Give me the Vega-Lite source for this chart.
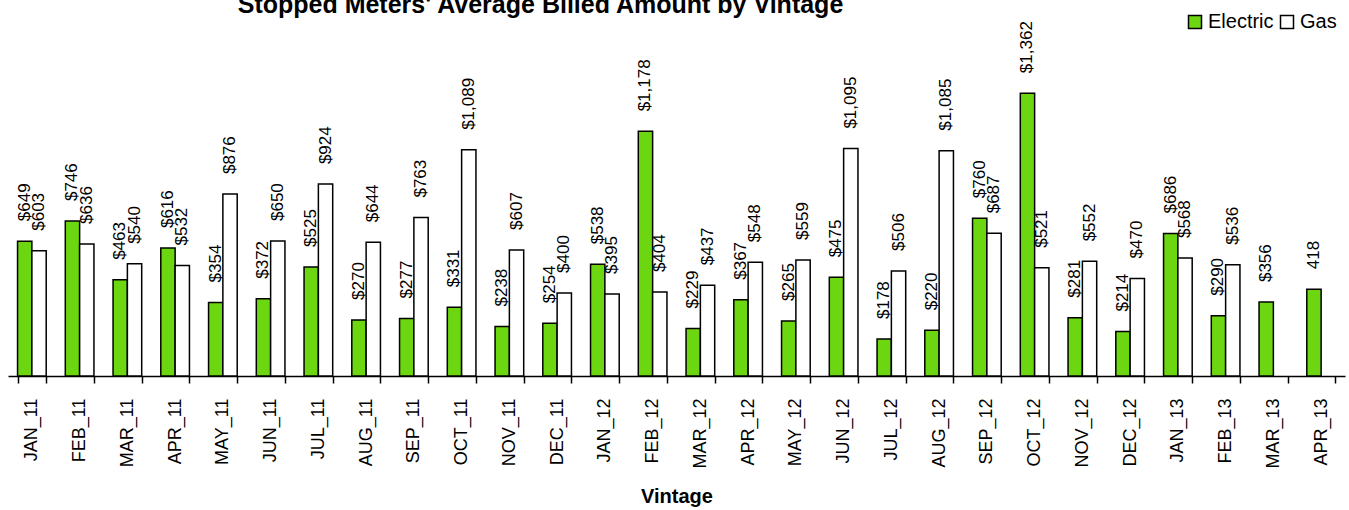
{
  "$schema": "https://vega.github.io/schema/vega-lite/v6.json",
  "width": 1337,
  "height": 346,
  "autosize": {"type": "none"},
  "padding": {"left": 8, "right": 4, "top": 30, "bottom": 134},
  "background": "white",
  "title": {
    "text": "Stopped Meters' Average Billed Amount by Vintage",
    "fontSize": 25,
    "fontWeight": "bold",
    "font": "Liberation Sans",
    "color": "black",
    "anchor": "middle",
    "dx": -136,
    "baseline": "alphabetic",
    "offset": -26
  },
  "data": {
    "values": [
      {"vintage": "JAN_11", "type": "Electric", "amount": 649, "label": "$649"},
      {"vintage": "JAN_11", "type": "Gas", "amount": 603, "label": "$603"},
      {"vintage": "FEB_11", "type": "Electric", "amount": 746, "label": "$746"},
      {"vintage": "FEB_11", "type": "Gas", "amount": 636, "label": "$636"},
      {"vintage": "MAR_11", "type": "Electric", "amount": 463, "label": "$463"},
      {"vintage": "MAR_11", "type": "Gas", "amount": 540, "label": "$540"},
      {"vintage": "APR_11", "type": "Electric", "amount": 616, "label": "$616"},
      {"vintage": "APR_11", "type": "Gas", "amount": 532, "label": "$532"},
      {"vintage": "MAY_11", "type": "Electric", "amount": 354, "label": "$354"},
      {"vintage": "MAY_11", "type": "Gas", "amount": 876, "label": "$876"},
      {"vintage": "JUN_11", "type": "Electric", "amount": 372, "label": "$372"},
      {"vintage": "JUN_11", "type": "Gas", "amount": 650, "label": "$650"},
      {"vintage": "JUL_11", "type": "Electric", "amount": 525, "label": "$525"},
      {"vintage": "JUL_11", "type": "Gas", "amount": 924, "label": "$924"},
      {"vintage": "AUG_11", "type": "Electric", "amount": 270, "label": "$270"},
      {"vintage": "AUG_11", "type": "Gas", "amount": 644, "label": "$644"},
      {"vintage": "SEP_11", "type": "Electric", "amount": 277, "label": "$277"},
      {"vintage": "SEP_11", "type": "Gas", "amount": 763, "label": "$763"},
      {"vintage": "OCT_11", "type": "Electric", "amount": 331, "label": "$331"},
      {"vintage": "OCT_11", "type": "Gas", "amount": 1089, "label": "$1,089"},
      {"vintage": "NOV_11", "type": "Electric", "amount": 238, "label": "$238"},
      {"vintage": "NOV_11", "type": "Gas", "amount": 607, "label": "$607"},
      {"vintage": "DEC_11", "type": "Electric", "amount": 254, "label": "$254"},
      {"vintage": "DEC_11", "type": "Gas", "amount": 400, "label": "$400"},
      {"vintage": "JAN_12", "type": "Electric", "amount": 538, "label": "$538"},
      {"vintage": "JAN_12", "type": "Gas", "amount": 395, "label": "$395"},
      {"vintage": "FEB_12", "type": "Electric", "amount": 1178, "label": "$1,178"},
      {"vintage": "FEB_12", "type": "Gas", "amount": 404, "label": "$404"},
      {"vintage": "MAR_12", "type": "Electric", "amount": 229, "label": "$229"},
      {"vintage": "MAR_12", "type": "Gas", "amount": 437, "label": "$437"},
      {"vintage": "APR_12", "type": "Electric", "amount": 367, "label": "$367"},
      {"vintage": "APR_12", "type": "Gas", "amount": 548, "label": "$548"},
      {"vintage": "MAY_12", "type": "Electric", "amount": 265, "label": "$265"},
      {"vintage": "MAY_12", "type": "Gas", "amount": 559, "label": "$559"},
      {"vintage": "JUN_12", "type": "Electric", "amount": 475, "label": "$475"},
      {"vintage": "JUN_12", "type": "Gas", "amount": 1095, "label": "$1,095"},
      {"vintage": "JUL_12", "type": "Electric", "amount": 178, "label": "$178"},
      {"vintage": "JUL_12", "type": "Gas", "amount": 506, "label": "$506"},
      {"vintage": "AUG_12", "type": "Electric", "amount": 220, "label": "$220"},
      {"vintage": "AUG_12", "type": "Gas", "amount": 1085, "label": "$1,085"},
      {"vintage": "SEP_12", "type": "Electric", "amount": 760, "label": "$760"},
      {"vintage": "SEP_12", "type": "Gas", "amount": 687, "label": "$687"},
      {"vintage": "OCT_12", "type": "Electric", "amount": 1362, "label": "$1,362"},
      {"vintage": "OCT_12", "type": "Gas", "amount": 521, "label": "$521"},
      {"vintage": "NOV_12", "type": "Electric", "amount": 281, "label": "$281"},
      {"vintage": "NOV_12", "type": "Gas", "amount": 552, "label": "$552"},
      {"vintage": "DEC_12", "type": "Electric", "amount": 214, "label": "$214"},
      {"vintage": "DEC_12", "type": "Gas", "amount": 470, "label": "$470"},
      {"vintage": "JAN_13", "type": "Electric", "amount": 686, "label": "$686"},
      {"vintage": "JAN_13", "type": "Gas", "amount": 568, "label": "$568"},
      {"vintage": "FEB_13", "type": "Electric", "amount": 290, "label": "$290"},
      {"vintage": "FEB_13", "type": "Gas", "amount": 536, "label": "$536"},
      {"vintage": "MAR_13", "type": "Electric", "amount": 356, "label": "$356"},
      {"vintage": "APR_13", "type": "Electric", "amount": 418, "label": "418"}
    ]
  },
  "encoding": {
    "x": {
      "field": "vintage",
      "type": "nominal",
      "sort": null,
      "scale": {"paddingInner": 0.4, "paddingOuter": 0.2},
      "axis": {
        "title": "Vintage",
        "titleFontSize": 20,
        "titleFont": "Liberation Sans",
        "titleFontWeight": "bold",
        "titleColor": "black",
        "titlePadding": 18,
        "labelAngle": -90,
        "labelFontSize": 18,
        "labelFont": "Liberation Sans",
        "labelColor": "black",
        "labelPadding": 15,
        "tickSize": 7,
        "tickColor": "black",
        "tickWidth": 1.5,
        "domainColor": "black",
        "domainWidth": 1.5,
        "tickBand": "extent",
        "grid": false
      }
    },
    "xOffset": {
      "field": "type",
      "type": "nominal",
      "sort": ["Electric", "Gas"],
      "scale": {"domain": ["Electric", "Gas"], "paddingInner": 0, "paddingOuter": 0}
    },
    "y": {
      "field": "amount",
      "type": "quantitative",
      "scale": {"domain": [0, 1666], "nice": false, "zero": true},
      "axis": null
    }
  },
  "layer": [
    {
      "mark": {"type": "bar", "stroke": "black", "strokeWidth": 1.5},
      "encoding": {
        "color": {
          "field": "type",
          "type": "nominal",
          "scale": {"domain": ["Electric", "Gas"], "range": ["#6cd610", "#ffffff"]},
          "legend": {
            "title": null,
            "orient": "none",
            "legendX": 1177,
            "legendY": -18,
            "direction": "horizontal",
            "symbolType": "square",
            "symbolSize": 169,
            "symbolStrokeColor": "black",
            "symbolStrokeWidth": 1.5,
            "symbolOpacity": 1,
            "labelFontSize": 20,
            "labelFont": "Liberation Sans",
            "labelColor": "black",
            "labelOffset": 3,
            "columnPadding": 3,
            "padding": 0
          }
        }
      }
    },
    {
      "mark": {
        "type": "text",
        "angle": 270,
        "align": "left",
        "baseline": "middle",
        "dx": 20,
        "fontSize": 17,
        "font": "Liberation Sans",
        "color": "black"
      },
      "encoding": {"text": {"field": "label"}}
    }
  ],
  "config": {"view": {"stroke": null}}
}
